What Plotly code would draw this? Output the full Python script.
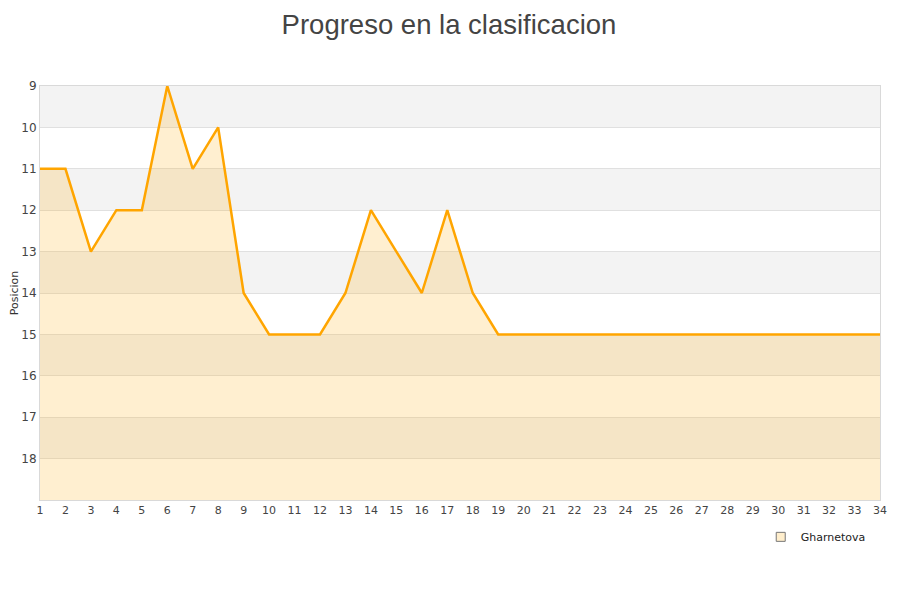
import plotly.graph_objects as go

jornadas = list(range(1, 35))
posiciones = [11, 11, 13, 12, 12, 9, 11, 10, 14, 15, 15, 15, 14, 12, 13, 14, 12, 14, 15,
              15, 15, 15, 15, 15, 15, 15, 15, 15, 15, 15, 15, 15, 15, 15]
y_ticks = list(range(9, 19))
y_min, y_max = 9, 19
equipo = "Gharnetova"

fig = go.Figure()

shapes = []
for k in range(y_min, y_max):
    if (k - y_min) % 2 == 0:
        shapes.append(dict(type="rect", xref="paper", yref="y", x0=0, x1=1, y0=k, y1=k + 1,
                           fillcolor="#f3f3f3", line=dict(width=0), layer="below"))

fig.add_trace(go.Scatter(x=jornadas, y=[y_max] * len(jornadas), mode="lines",
                         line=dict(width=0), showlegend=False, hoverinfo="skip"))
fig.add_trace(go.Scatter(x=jornadas, y=posiciones, mode="lines", fill="tonexty",
                         fillcolor="rgba(255,175,20,0.2)",
                         line=dict(color="#ffa500", width=2.5), showlegend=False, name=equipo))
fig.add_trace(go.Scatter(x=[None], y=[None], mode="markers", name=equipo,
                         marker=dict(symbol="square", size=9, color="#ffeecc",
                                     line=dict(color="#777", width=1))))

fig.update_layout(
    width=900, height=600,
    paper_bgcolor="white", plot_bgcolor="white",
    margin=dict(l=32, r=28, t=78, b=108, autoexpand=False),
    title=dict(text="Progreso en la clasificacion", x=0.49, xanchor="center",
               y=0.972, yanchor="middle",
               font=dict(family="Liberation Sans, Arial", size=27.5, color="#444")),
    font=dict(family="DejaVu Sans, Verdana", size=11, color="#444"),
    shapes=shapes,
    showlegend=True,
    legend=dict(x=0.858, y=-0.089, xanchor="left", yanchor="middle", orientation="h",
                bgcolor="rgba(255,255,255,1)", font=dict(size=11, color="#222"),
                itemwidth=30),
)
fig.update_xaxes(range=[1, 34], tickmode="array", tickvals=jornadas, showgrid=False,
                 showline=True, linecolor="#d9d9d9", mirror=True, zeroline=False,
                 ticks="", automargin=False, tickfont=dict(size=11, color="#444"))
fig.update_yaxes(range=[y_max, y_min], tickmode="array", tickvals=y_ticks, showgrid=True,
                 gridcolor="#e0e0e0", showline=True, linecolor="#d9d9d9", mirror=True,
                 zeroline=False, ticks="", automargin=False,
                 tickfont=dict(size=12, color="#444"),
                 title=dict(text="Posicion", font=dict(size=11, color="#333")))

fig.write_html("out.html")
